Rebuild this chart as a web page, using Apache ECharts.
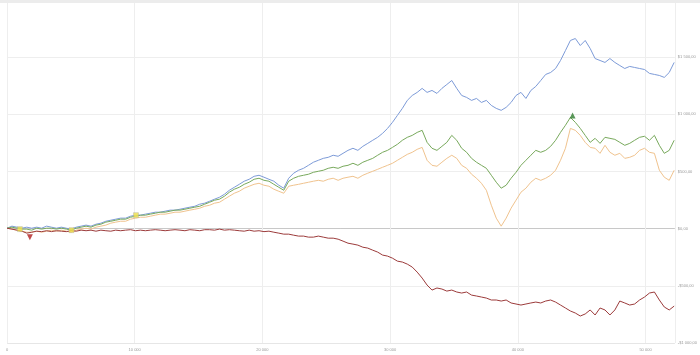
<!DOCTYPE html>
<html>
<head>
<meta charset="utf-8">
<script src="https://cdn.jsdelivr.net/npm/echarts@6/dist/echarts.min.js"></script>
<style>html,body{margin:0;padding:0;background:#fff}#c{width:700px;height:355px}</style>
</head>
<body>
<div id="c"></div>
<script>
const xStep = 387;
const blue = [4,22,13,4,13,4,13,4,22,13,4,13,4,-4,13,22,31,22,39,48,65,74,83,92,92,109,118,118,127,135,144,144,153,162,162,170,179,188,196,214,223,240,258,275,301,336,362,388,415,432,458,467,450,432,415,380,354,441,485,511,528,554,581,598,615,624,642,633,659,685,703,685,720,746,773,799,834,877,930,991,1052,1122,1165,1192,1227,1192,1209,1183,1227,1261,1296,1227,1165,1148,1122,1139,1104,1122,1078,1052,1035,1061,1104,1165,1192,1139,1209,1244,1296,1349,1366,1401,1471,1558,1646,1663,1602,1646,1576,1488,1471,1454,1488,1454,1427,1401,1419,1410,1401,1392,1358,1349,1340,1323,1366,1454];
const green = [4,13,4,-4,-4,-13,4,-4,4,4,-4,4,-4,-13,4,13,22,13,31,39,57,65,74,83,83,100,109,118,118,127,135,144,144,153,162,162,170,179,188,196,214,231,249,258,284,319,345,362,388,406,432,441,423,415,388,362,336,415,441,458,467,476,493,502,511,528,537,528,546,554,572,554,581,598,615,642,668,685,711,738,773,799,816,842,860,755,703,685,720,755,816,773,703,668,615,581,554,528,467,406,354,380,441,493,554,598,642,685,668,685,720,773,842,904,973,930,877,816,755,790,746,799,790,781,755,729,746,773,799,808,773,816,729,659,685,773];
const orange = [4,-4,-13,-22,-31,-31,-22,-31,-22,-13,-22,-13,-22,-31,-13,-4,4,-4,13,22,31,48,57,65,65,83,92,100,100,109,118,127,127,135,144,144,153,162,170,179,196,205,223,231,258,284,310,327,354,371,388,397,380,371,345,327,310,371,380,388,397,406,415,423,415,432,441,423,441,450,458,441,467,485,502,519,537,554,572,598,624,650,668,694,711,598,554,546,581,615,642,615,554,528,476,441,397,336,205,92,22,92,179,249,319,354,406,441,423,441,467,511,598,703,877,860,816,755,711,703,659,729,668,642,659,615,624,642,685,703,668,659,511,450,423,511];
const red = [4,-4,-13,-22,-39,-31,-22,-26,-18,-26,-18,-22,-26,-18,-22,-13,-18,-13,-22,-13,-18,-22,-13,-18,-13,-9,-18,-13,-18,-13,-9,-13,-18,-13,-9,-13,-18,-9,-13,-18,-9,-9,-13,-4,-13,-9,-13,-18,-22,-13,-22,-18,-26,-22,-31,-39,-48,-48,-57,-65,-65,-74,-74,-65,-74,-83,-83,-92,-109,-127,-135,-144,-162,-170,-188,-205,-231,-240,-258,-284,-292,-310,-336,-380,-432,-493,-537,-519,-528,-546,-537,-554,-563,-554,-581,-589,-598,-607,-624,-624,-633,-624,-650,-659,-668,-659,-650,-642,-650,-633,-624,-642,-668,-694,-720,-738,-764,-746,-711,-755,-694,-711,-755,-711,-633,-650,-668,-659,-624,-598,-563,-554,-624,-685,-711,-677];
const yellowMarks = [[1010,-4],[5050,-13],[10100,118]];
const redMark = [[1790,-74]];
const greenMark = [[44290,990]];

const pairs = arr => arr.map((v, i) => [i * xStep, v]);
function money(v){
  const neg = v < 0; const a = Math.abs(v);
  const s = Math.floor(a).toString().replace(/\B(?=(\d{3})+(?!\d))/g, ' ');
  return (neg ? '-' : '') + '$' + s + ',00';
}
const chart = echarts.init(document.getElementById('c'), null, {renderer:'canvas'});
const lineBase = {type:'line', showSymbol:false, symbol:'none', lineStyle:{width:1}, animation:false, z:2};
chart.setOption({
  backgroundColor:'#fff',
  animation:false,
  graphic:[{type:'rect', shape:{x:0,y:0,width:700,height:3}, style:{fill:'#ececec'}, z:10}],
  grid:{left:7, right:20, top:0, bottom:12, containLabel:false},
  xAxis:{type:'value', min:0, max:52300, interval:10000,
    axisLine:{show:false}, axisTick:{show:false},
    splitLine:{show:true, lineStyle:{color:'#eeeeee', width:1}},
    axisLabel:{fontSize:4, color:'#999', margin:5, showMaxLabel:false,
      formatter: v => v.toString().replace(/\B(?=(\d{3})+(?!\d))/g, ' ')}},
  yAxis:{type:'value', position:'right', min:-1000, max:2000, interval:500,
    axisLine:{show:true, lineStyle:{color:'#eeeeee'}}, axisTick:{show:false},
    splitLine:{show:true, lineStyle:{color:['#e6e6e6','#eeeeee','#c8c8c8','#eeeeee','#eeeeee','#eeeeee','#eeeeee'], width:1}},
    axisLabel:{fontSize:4, color:'#999', margin:3, showMaxLabel:false, formatter: money}},
  series:[
    Object.assign({}, lineBase, {name:'blue', data:pairs(blue), lineStyle:{width:1, color:'#7d9bd8'}, itemStyle:{color:'#7d9bd8'}}),
    Object.assign({}, lineBase, {name:'orange', data:pairs(orange), lineStyle:{width:1, color:'#f0c38e'}, itemStyle:{color:'#f0c38e'}}),
    Object.assign({}, lineBase, {name:'green', data:pairs(green), lineStyle:{width:1, color:'#78a95c'}, itemStyle:{color:'#78a95c'}}),
    Object.assign({}, lineBase, {name:'red', data:pairs(red), lineStyle:{width:1, color:'#9c3b3b'}, itemStyle:{color:'#9c3b3b'}}),
    {type:'scatter', data:yellowMarks, symbol:'rect', symbolSize:5, itemStyle:{color:'#f2e34a', borderColor:'#aaa', borderWidth:0.5}, z:5, animation:false},
    {type:'scatter', data:redMark, symbol:'triangle', symbolRotate:180, symbolSize:6, itemStyle:{color:'#b01e1e'}, z:5, animation:false},
    {type:'scatter', data:greenMark, symbol:'triangle', symbolSize:6, itemStyle:{color:'#2f7d2f'}, z:5, animation:false}
  ]
});
</script>
</body>
</html>
